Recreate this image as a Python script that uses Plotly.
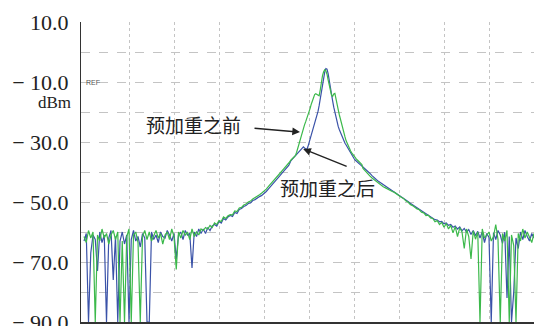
import numpy as np
import plotly.graph_objects as go

# Sweep points (screen divisions): coarse on the skirts, finer around the carrier
FREQ_LEFT = np.round(np.linspace(0.0, 4.55, 92), 3)
FREQ_CORE = np.round(np.linspace(4.6, 6.175, 64), 3)
FREQ_RIGHT = np.round(np.linspace(6.2, 10.0, 77), 3)
FREQ = np.concatenate([FREQ_LEFT, FREQ_CORE, FREQ_RIGHT])

# Trace after pre-emphasis (blue), dBm
AFTER_LEFT = [
    -63, -60.5, -90, -67, -61, -62.5, -73, -60, -63.5, -61,
    -90, -62, -59.5, -76, -61.5, -90, -63, -60, -64, -61,
    -90, -62.5, -59.5, -63, -61.5, -65, -60.5, -62, -90, -90,
    -60, -62.5, -61, -63.5, -60, -61.5, -62, -59.5, -61, -63,
    -60.5, -69, -61, -60, -62.5, -59.5, -61, -60.5, -72, -60,
    -61.5, -59, -60.5, -59, -60.5, -58.5, -59.5, -58, -57.5, -58,
    -56.5, -57, -55.5, -56, -55, -54.5, -54.8, -53.5, -53.8, -52.5,
    -52.2, -51.5, -51.2, -50.5, -50.3, -49.5, -49.2, -48.6, -48.2, -47.8,
    -47.3, -46.5, -45.6, -44.8, -43.9, -43.2, -42.2, -41.3, -40.4, -39.5,
    -38.7, -37.8,
]
AFTER_CORE = [
    -36.2, -35.8, -35.4, -35.0, -34.6, -34.1, -33.7, -33.3, -32.9, -32.4,
    -31.9, -31.6, -32.0, -32.5, -32.6, -31.6, -30.3, -29.0, -27.6, -26.4,
    -25.0, -23.7, -22.4, -21.4, -19.8, -17.9, -15.4, -12.6, -9.9, -8.0,
    -6.6, -5.5, -5.7, -7.2, -9.8, -12.4, -14.3, -16.3, -18.4, -20.2,
    -21.7, -23.2, -24.9, -25.9, -26.9, -27.8, -28.9, -29.6, -30.4, -31.0,
    -31.7, -32.2, -32.8, -33.4, -34.1, -34.9, -35.5, -36.0, -36.4, -36.7,
    -37.0, -37.3, -37.7, -38.0,
]
AFTER_RIGHT = [
    -38.3, -39.0, -39.8, -40.4, -41.2, -42.0, -42.6, -43.2, -43.7, -44.3,
    -44.8, -45.3, -45.7, -46.2, -46.6, -47.1, -47.5, -48.1, -48.6, -49.3,
    -49.8, -50.4, -50.9, -51.5, -52.0, -52.4, -53.0, -53.3, -53.9, -54.2,
    -54.8, -55.2, -55.9, -56.0, -56.6, -56.5, -57.3, -57.0, -57.8, -57.5,
    -58.4, -58.0, -59.0, -58.3, -59.6, -58.8, -60.0, -59.2, -60.8, -59.5,
    -61.2, -59.8, -62.0, -60.0, -63.5, -60.5, -61.8, -90, -60.2, -62.5,
    -59.5, -61.0, -63.8, -60.0, -82, -61.5, -90, -80, -62.0, -65.5,
    -60.0, -62.5, -59.5, -61.5, -63.0, -60.5, -62.0,
]

# Trace before pre-emphasis (green), dBm
BEFORE_LEFT = [
    -61.5, -63.5, -59.5, -62, -60, -90, -61, -63, -59, -62,
    -60.5, -64, -61, -59.5, -62.5, -60, -90, -63, -90, -61.5,
    -59, -90, -61, -60, -63.5, -90, -61.5, -59.5, -62.5, -60,
    -63, -61, -59.5, -62, -60.5, -64, -61, -60, -62.5, -59,
    -61.5, -72.5, -60, -62, -59.5, -61, -60, -62.5, -59, -61.5,
    -60, -61, -59, -59.5, -58.5, -59, -57.8, -58.5, -57, -57.5,
    -56.2, -56.5, -55, -55.5, -54.6, -54.2, -54.3, -53, -53.2, -52,
    -51.8, -51, -50.7, -50, -49.7, -49, -48.6, -48, -47.6, -47,
    -46.5, -45.7, -44.8, -44, -43.1, -42.3, -41.4, -40.5, -39.6, -38.8,
    -37.9, -37.0,
]
BEFORE_CORE = [
    -36.0, -35.7, -35.4, -35.1, -34.5, -33.4, -32.0, -30.6, -29.3, -27.6,
    -26.2, -25.3, -24.3, -23.3, -22.3, -21.3, -20.1, -18.8, -17.4, -16.2,
    -15.0, -14.2, -13.9, -14.2, -14.6, -14.6, -12.6, -9.9, -7.9, -6.6,
    -5.9, -6.3, -7.4, -9.3, -11.3, -13.2, -14.4, -14.8, -14.0, -13.8,
    -15.3, -17.4, -19.3, -21.0, -22.6, -24.4, -25.9, -27.0, -28.3, -29.6,
    -30.6, -31.5, -32.3, -33.0, -33.6, -34.2, -34.7, -35.2, -35.6, -36.0,
    -36.4, -36.8, -37.1, -37.5,
]
BEFORE_RIGHT = [
    -38.8, -39.7, -40.6, -41.3, -42.0, -42.6, -43.3, -43.8, -44.4, -44.9,
    -45.3, -45.8, -46.0, -46.5, -46.8, -47.4, -47.7, -48.4, -48.8, -49.6,
    -50.0, -50.8, -51.2, -51.8, -52.3, -52.6, -53.4, -53.6, -54.5, -54.4,
    -55.3, -55.5, -56.6, -56.2, -57.5, -56.8, -58.4, -57.2, -59.0, -57.8,
    -60.3, -58.2, -61.5, -58.6, -60.0, -65.5, -59.0, -61.5, -69.0, -59.6,
    -62.4, -60.0, -90, -59.0, -62.0, -61.0, -60.0, -63.0, -61.5, -57.5,
    -62.5, -90, -60.5, -63.0, -59.5, -90, -61.0, -64.5, -90, -60.5,
    -63.0, -59.0, -62.0, -60.0, -61.5, -63.5, -60.5,
]

AFTER = AFTER_LEFT + AFTER_CORE + AFTER_RIGHT
BEFORE = BEFORE_LEFT + BEFORE_CORE + BEFORE_RIGHT

# Vertical scale
Y_RANGE = [-90, 10]
Y_LABEL_VALS = [10, -10, -30, -50, -70, -90]
Y_LABEL_TEXT = ["10.0", "\u2212 10.0", "\u2212 30.0", "\u2212 50.0", "\u2212 70.0", "\u2212 90.0"]
Y_GRID_VALS = [0, -10, -20, -30, -40, -50, -60, -70, -80]
X_GRID_VALS = [1, 2, 3, 4, 5, 6, 7, 8, 9]

BLUE = "#3a52a8"
GREEN = "#3cb94b"
GRID = "#c4c4c4"

fig = go.Figure()
fig.add_trace(go.Scatter(x=FREQ, y=AFTER, mode="lines", name="预加重之后",
                         line=dict(color=BLUE, width=1.2), yaxis="y"))
fig.add_trace(go.Scatter(x=FREQ, y=BEFORE, mode="lines", name="预加重之前",
                         line=dict(color=GREEN, width=1.2), yaxis="y2"))

serif = "'Liberation Serif', Tinos, 'Times New Roman', 'DejaVu Serif', serif"
cjk = "'Noto Sans CJK SC'"

annotations = [
    dict(text="预加重之前", x=2.43, y=-24, xref="x", yref="y", showarrow=False,
         font=dict(family=cjk, size=19, color="#222")),
    dict(text="预加重之后", x=5.4, y=-45.3, xref="x", yref="y", showarrow=False,
         font=dict(family=cjk, size=19, color="#222")),
    dict(text="", x=4.8, y=-26.7, xref="x", yref="y", showarrow=True,
         ax=-47, ay=-4, arrowhead=2, arrowsize=1.1, arrowwidth=1.4,
         arrowcolor="#222", standoff=0),
    dict(text="", x=4.87, y=-32.3, xref="x", yref="y", showarrow=True,
         ax=45, ay=18, arrowhead=2, arrowsize=1.1, arrowwidth=1.4,
         arrowcolor="#222", standoff=0),
    dict(text="dBm", x=0, y=-10, xref="paper", yref="y", xanchor="right",
         xshift=-8, yshift=-20, showarrow=False,
         font=dict(family=serif, size=17, color="#222")),
    dict(text="REF", x=0, y=-10, xref="paper", yref="y", xanchor="left",
         xshift=3, showarrow=False,
         font=dict(family="'Liberation Sans'", size=7, color="#555")),
]

fig.update_layout(
    width=534, height=326,
    margin=dict(l=81, r=0, t=22, b=4),
    paper_bgcolor="white", plot_bgcolor="white",
    showlegend=False,
    annotations=annotations,
    xaxis=dict(range=[-0.067, 10], tickvals=X_GRID_VALS, showticklabels=False,
               ticks="", showgrid=True, gridcolor=GRID, gridwidth=1.3,
               griddash="dot", zeroline=False, showline=True,
               linecolor="#333", linewidth=2, automargin=False),
    yaxis=dict(range=Y_RANGE, tickvals=Y_LABEL_VALS, ticktext=Y_LABEL_TEXT,
               ticks="", showgrid=False, zeroline=False, showline=True,
               linecolor="#333", linewidth=1, ticklabelstandoff=7,
               ticklabeloverflow="allow", automargin=False,
               tickfont=dict(family=serif, size=22, color="#222")),
    yaxis2=dict(range=Y_RANGE, overlaying="y", tickvals=Y_GRID_VALS,
                showticklabels=False, ticks="", showgrid=True, gridcolor=GRID,
                gridwidth=1.3, griddash="dash", zeroline=False, showline=False,
                automargin=False),
)

fig.write_html("out.html")
